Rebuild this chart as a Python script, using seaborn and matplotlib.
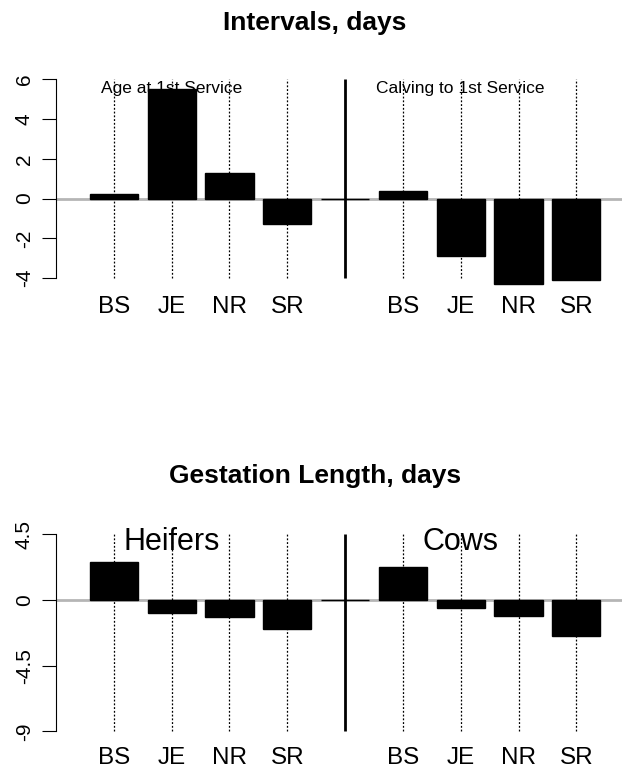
import pandas as pd
import matplotlib.pyplot as plt
import seaborn as sns

# breed differences
breeds = ["BS", "JE", "NR", "SR"]
age_first_service = [0.22, 5.51, 1.31, -1.27]
calving_first_service = [0.40, -2.91, -4.27, -4.07]
gest_heifers = [2.60, -0.91, -1.19, -1.99]
gest_cows = [2.24, -0.55, -1.12, -2.49]

sns.set_style("white")
plt.rcParams["font.family"] = ["Liberation Sans", "DejaVu Sans"]
plt.rcParams["text.color"] = "black"
plt.rcParams["xtick.color"] = "black"
plt.rcParams["ytick.color"] = "black"


def make_df(left, right):
    keys = ["L_" + b for b in breeds] + ["gap"] + ["R_" + b for b in breeds]
    vals = list(left) + [0.0] + list(right)
    return pd.DataFrame({"key": keys, "value": vals})


def panel(ax, df, yticks, ticklabels, ylim, left_label, right_label, label_y, label_size, xpad):
    ax.axhline(0, color="#b5b5b5", lw=2, zorder=0)
    sns.barplot(data=df, x="key", y="value", order=list(df["key"]), color="black",
                saturation=1, width=0.833, edgecolor="black", linewidth=1, ax=ax, zorder=2)
    lo, hi = yticks[0], yticks[-1]
    pos = [0, 1, 2, 3, 5, 6, 7, 8]
    ax.vlines(pos, lo, hi, colors="black", linestyles=(0, (1.5, 1.5)), lw=0.9, zorder=1)
    ax.vlines([4], lo, hi, colors="black", lw=2, zorder=3)
    ax.set_xlim(-1.0, 8.79)
    ax.set_ylim(*ylim)
    ax.set_xticks(pos)
    ax.set_xticklabels(breeds + breeds, fontsize=17.5)
    ax.tick_params(axis="x", length=0, pad=xpad)
    ax.set_yticks(yticks)
    ax.set_yticklabels(ticklabels, rotation=90, va="center", fontsize=15)
    ax.tick_params(axis="y", length=10, width=0.8, direction="out", pad=6, left=True)
    for s in ["top", "right", "bottom"]:
        ax.spines[s].set_visible(False)
    ax.spines["left"].set_bounds(lo, hi)
    ax.spines["left"].set_linewidth(0.8)
    ax.spines["left"].set_color("black")
    ax.set_xlabel("")
    ax.set_ylabel("")
    ax.text(1, label_y, left_label, ha="center", va="baseline", fontsize=label_size, zorder=4)
    ax.text(6, label_y, right_label, ha="center", va="baseline", fontsize=label_size, zorder=4)


fig = plt.figure(figsize=(6.22, 7.71), dpi=100)
ax1 = fig.add_axes([0.090, 0.6237, 0.910, 0.2891])
ax2 = fig.add_axes([0.090, 0.0344, 0.910, 0.2896])

panel(ax1, make_df(age_first_service, calving_first_service),
      [-4, -2, 0, 2, 4, 6], ["-4", "-2", "0", "2", "4", "6"], (-4.6, 6.6),
      "Age at 1st Service", "Calving to 1st Service", 5.32, 12.5, 4)
panel(ax2, make_df(gest_heifers, gest_cows),
      [-9, -4.5, 0, 4.5], ["-9", "-4.5", "0", "4.5"], (-9.9, 5.4),
      "Heifers", "Cows", 3.42, 22, 2)

fig.text(315 / 622, 1 - 30 / 771, "Intervals, days", ha="center", va="baseline",
         fontsize=19, fontweight="bold")
fig.text(315 / 622, 1 - 483 / 771, "Gestation Length, days", ha="center", va="baseline",
         fontsize=19, fontweight="bold")

fig.savefig("out.png", dpi=100)
plt.close()
